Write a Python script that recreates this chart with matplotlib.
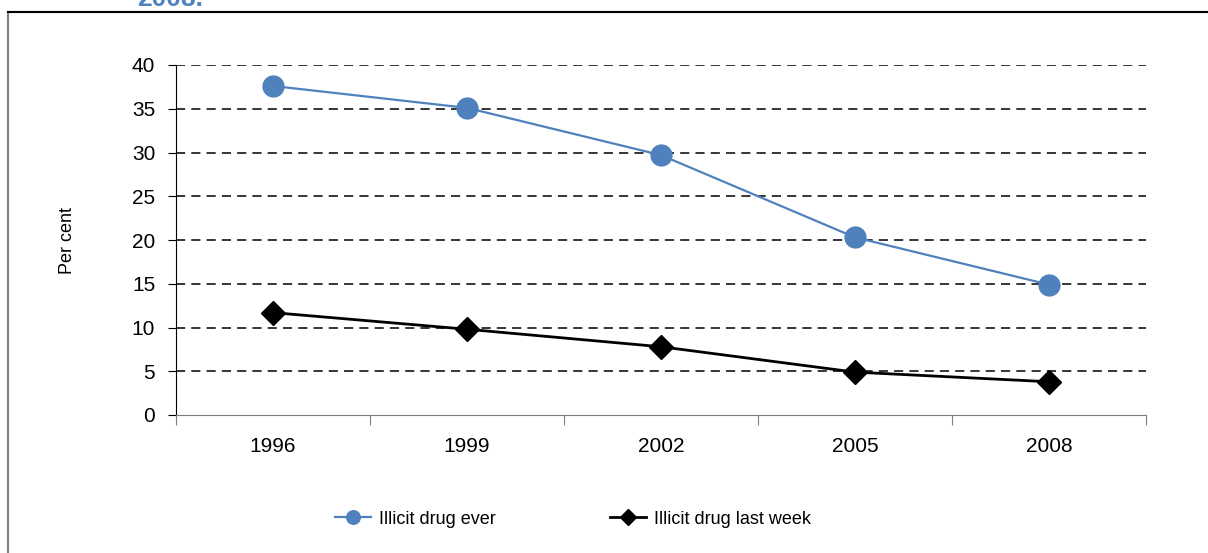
import matplotlib
matplotlib.use("Agg")
import matplotlib.pyplot as plt
from matplotlib.patches import Rectangle

plt.rcParams["font.family"] = ["Liberation Sans", "DejaVu Sans"]

# ── Data ───────────────────────────────────────────────────────────────────
years = ["1996", "1999", "2002", "2005", "2008"]
drug_ever = [37.6, 35.1, 29.7, 20.3, 14.9]
drug_last_week = [11.7, 9.8, 7.8, 4.9, 3.8]
y_ticks = [0, 5, 10, 15, 20, 25, 30, 35, 40]

BLUE = "#4F81BD"

fig = plt.figure(figsize=(12.08, 5.53), dpi=100)

# chart frame (only top and left edges fall inside the picture)
fig.patches.append(Rectangle((8 / 1208, -0.2), 1.2, 1.2 - 12 / 553,
                             transform=fig.transFigure, fill=False,
                             edgecolor="#7f7f7f", linewidth=1.5, zorder=0))
fig.add_artist(plt.Line2D([8 / 1208, 1.0], [1 - 12 / 553, 1 - 12 / 553],
                          transform=fig.transFigure, color="black", linewidth=1.5))

# cut-off title fragment at the very top
fig.text(170 / 1208, 1 - 6 / 553, "2008.", color=BLUE, fontsize=19,
         fontweight="bold", ha="center", va="baseline")

ax = fig.add_axes([176 / 1208, 1 - 415 / 553, (1146 - 176) / 1208, (415 - 65) / 553])

x = list(range(len(years)))
ax.plot(x, drug_ever, color=BLUE, linewidth=1.6, marker="o", markersize=15,
        label="Illicit drug ever", zorder=3, clip_on=False)
ax.plot(x, drug_last_week, color="black", linewidth=2, marker="D", markersize=12,
        label="Illicit drug last week", zorder=3, clip_on=False)

ax.set_xlim(-0.5, len(years) - 0.5)
ax.set_ylim(0, 40)
ax.set_yticks(y_ticks)

# category axis: ticks sit between categories, labels centred
ax.set_xticks([i - 0.5 for i in range(len(years) + 1)])
ax.set_xticklabels([])
ax.set_xticks(x, minor=True)
ax.set_xticklabels(years, minor=True)
ax.tick_params(axis="x", which="minor", length=0, pad=16, labelsize=15)
ax.tick_params(axis="x", which="major", length=7, color="#7f7f7f", direction="out")
ax.tick_params(axis="y", length=6, direction="out", pad=9, labelsize=15)

for yv in y_ticks[1:]:
    ax.axhline(yv, color="black", linewidth=1.1, dashes=(6, 4), zorder=1)

ax.spines["top"].set_visible(False)
ax.spines["right"].set_visible(False)
ax.spines["left"].set_color("black")
ax.spines["bottom"].set_color("#7f7f7f")

ax.set_ylabel("Per cent", fontsize=13, labelpad=40)

fig.legend(loc="center", bbox_to_anchor=(573 / 1208, 1 - 519 / 553), ncol=2,
           frameon=False, fontsize=13,
           markerscale=0.65, handlelength=2.0, handletextpad=0.45, columnspacing=6.3)

fig.savefig("out.png", dpi=100)
